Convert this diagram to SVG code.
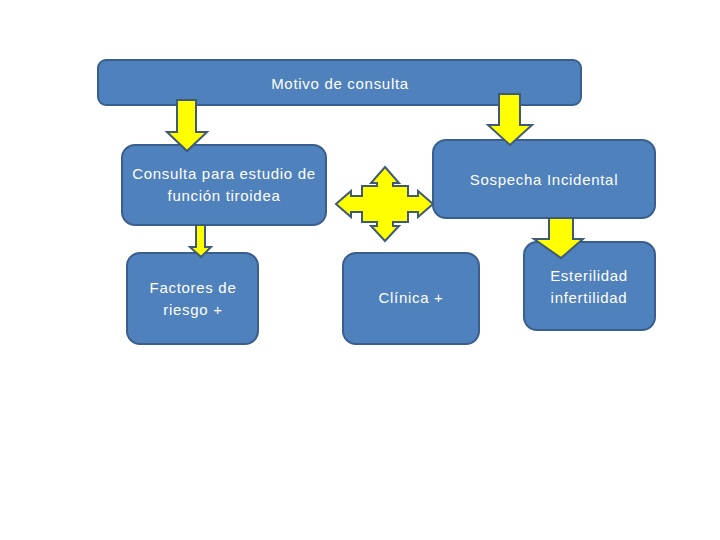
<svg xmlns="http://www.w3.org/2000/svg" width="720" height="540" viewBox="0 0 720 540">
<style>
.box{fill:#4F81BD;stroke:#3A5F8E;stroke-width:2}
.t{font-family:"Liberation Sans",Arial,sans-serif;font-size:15px;letter-spacing:0.7px;fill:#FFFFFF;text-anchor:middle}
.arr{fill:#FFFF00;stroke:#3F5A78;stroke-width:2;stroke-linejoin:miter}
</style>
<rect width="720" height="540" fill="#FFFFFF"/>
<g id="motivo">
<rect class="box" x="98" y="60" width="483" height="45" rx="8"/>
<text class="t" x="340" y="89">Motivo de consulta</text>
</g>
<g id="consulta">
<rect class="box" x="122" y="145" width="204" height="80" rx="13"/>
<text class="t" x="224" y="179">Consulta para estudio de</text>
<text class="t" x="224" y="201">función tiroidea</text>
</g>
<g id="sospecha">
<rect class="box" x="433" y="140" width="222" height="78" rx="13"/>
<text class="t" x="544" y="185">Sospecha Incidental</text>
</g>
<g id="factores">
<rect class="box" x="127" y="253" width="131" height="91" rx="13"/>
<text class="t" x="193" y="293">Factores  de</text>
<text class="t" x="193" y="315">riesgo +</text>
</g>
<g id="clinica">
<rect class="box" x="343" y="253" width="136" height="91" rx="13"/>
<text class="t" x="411" y="303">Clínica +</text>
</g>
<g id="esterilidad">
<rect class="box" x="524" y="242" width="131" height="88" rx="13"/>
<text class="t" x="589" y="281">Esterilidad</text>
<text class="t" x="589" y="303">infertilidad</text>
</g>
<g id="connectors">
<polygon class="arr" points="177,100 196,100 196,132 207,132 187,151 167,132 177,132"/>
<polygon class="arr" points="499,94 520,94 520,125 532,125 510,145 488,125 499,125"/>
<polygon class="arr" points="196,225 205,225 205,247 211,247 201,257 190,247 196,247"/>
<polygon class="arr" points="549,218 573,218 573,239 583,239 561,258 534,239 549,239"/>
<polygon class="arr" points="385,167 399,183 393,183 393,186 408,186 408,196 418,196 418,191 433,204 418,217 418,212 408,212 408,222 393,222 393,226 399,226 385,241 371,226 377,226 377,222 362,222 362,212 351,212 351,217 336,204 351,191 351,196 362,196 362,186 377,186 377,183 371,183"/>
</g>
</svg>
